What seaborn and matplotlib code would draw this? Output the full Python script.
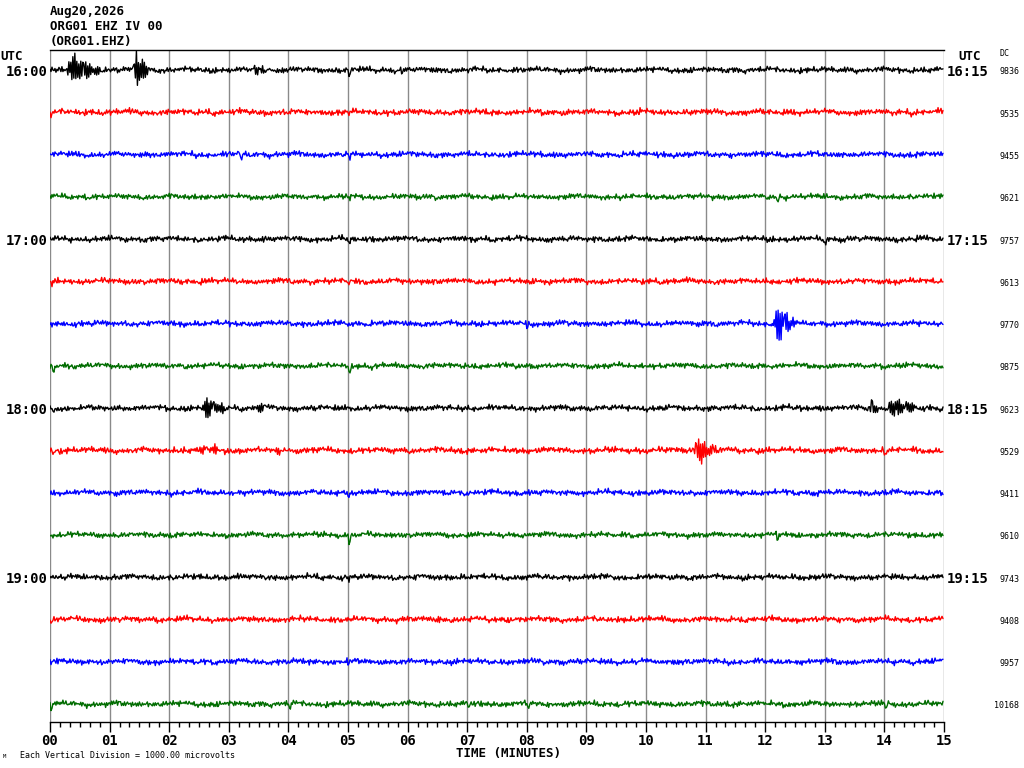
import numpy as np
import pandas as pd
import matplotlib
matplotlib.use("Agg")
import matplotlib.pyplot as plt
import seaborn as sns
from matplotlib.ticker import MultipleLocator

sns.set_style("white")
plt.rcParams["font.family"] = ["DejaVu Sans Mono"]
plt.rcParams["text.color"] = "black"
plt.rcParams["xtick.color"] = "black"

station = "ORG01 EHZ IV 00"
station_short = "(ORG01.EHZ)"
date_label = "Aug20,2026"
left_labels = {0: "16:00", 4: "17:00", 8: "18:00", 12: "19:00"}
right_labels = {0: "16:15", 4: "17:15", 8: "18:15", 12: "19:15"}
dc_values = [9836, 9535, 9455, 9621, 9757, 9613, 9770, 9875,
             9623, 9529, 9411, 9610, 9743, 9408, 9957, 10168]
trace_colors = ["#000000", "#ff0000", "#0000ff", "#006c00"]
minute_ticks = ["%02d" % m for m in range(16)]

# noise size per trace (pixels)
noise_scale = [1.0, 1.05, 1.0, 0.95, 1.0, 1.0, 1.0, 0.95,
               1.0, 1.05, 1.0, 0.95, 1.0, 1.0, 1.0, 1.0]
# hand-estimated wiggle texture (pixels)
jit_a = [1, -2, 3, -1, 0, 2, -3, 1, -1, 2, 0, -2, 3, -2, 1, 0,
         -1, 2, -3, 2, 0, 1, -2, 1, -1, 3, -2, 0, 2, -1, -1]
jit_b = [0, 1, -1, 0, 2, -1, 1, 0, -2, 1, 0, 1, -1, 2, -1, 0, 1, -1,
         0, -1, 2, 0, -1, 1, 0, -2, 1, 1, -1, 0, 1, -1, 2, -1, 0, -1, 1]
jit_c = [0, 1, 2, 1, -1, -2, -1, 0, 2, 1, -1, 0, -2]
burst_tex = [0.9, -0.7, 1.0, -0.9, 0.6, -1.0, 0.8, -0.6, 1.0, -0.8,
             0.7, -0.9, 0.5, -1.0, 0.9, -0.5, 0.8]
# events: trace, start minute, end minute, peak amplitude (pixels)
events = [(0, 0.30, 0.85, 13), (0, 1.40, 1.68, 17), (0, 3.40, 3.75, 5),
          (2, 3.15, 3.25, 4), (6, 12.15, 12.50, 18), (8, 2.55, 2.95, 12),
          (8, 3.50, 3.65, 4), (8, 13.75, 13.92, 11), (8, 14.05, 14.55, 9),
          (9, 2.50, 2.95, 5), (9, 3.80, 4.00, 4), (9, 10.80, 11.25, 12),
          (13, 6.45, 6.60, 3)]
burst_env = [0.35, 0.7, 1.0, 0.9, 0.8, 0.7, 0.6, 0.55, 0.5, 0.45, 0.4, 0.35, 0.3, 0.25]
# small downward kicks near minute marks: trace, minute, depth (pixels)
dips = [(0, 5.02, 5), (0, 5.9, 3), (1, 0.02, 4), (1, 5.0, 3), (2, 3.2, 5), (2, 5.02, 5),
        (3, 5.02, 4), (3, 12.2, 5), (4, 5.02, 5), (4, 13.0, 4), (5, 0.02, 3),
        (5, 5.0, 3), (6, 0.02, 3), (6, 8.0, 3), (7, 0.05, 5), (7, 5.02, 6),
        (7, 5.4, 3), (8, 0.05, 4), (9, 0.05, 4), (9, 14.0, 4), (10, 5.0, 3),
        (11, 5.02, 7), (11, 12.2, 5), (12, 5.0, 3), (13, 0.02, 3), (14, 5.0, 3),
        (15, 0.02, 5), (15, 4.02, 4), (15, 7.02, 4), (15, 8.02, 4), (15, 14.02, 5)]

# ---- layout in image pixels ----
W, H = 1024, 768
ax_left, ax_right, ax_top, ax_bottom = 50, 944, 50, 722
first_y, spacing = 70, (704 - 70) / 15
per_min = 60
n = 15 * per_min

fig = plt.figure(figsize=(10.24, 7.68), dpi=100)
ax = fig.add_axes([ax_left / W, 1 - ax_bottom / H,
                   (ax_right - ax_left) / W, (ax_bottom - ax_top) / H])

t = np.arange(n) / per_min
frames = []
for k in range(16):
    s = k * 7
    i_all = np.arange(n)
    wig = (np.array(jit_a)[(i_all + s) % len(jit_a)] * 0.75
           + np.array(jit_b)[(i_all * 3 + s * 2) % len(jit_b)] * 0.6
           + np.array(jit_c)[(i_all // 9 + s) % len(jit_c)] * 0.5) * noise_scale[k]
    for tr, m0, m1, amp in events:
        if tr != k:
            continue
        i0, i1 = int(m0 * per_min), int(m1 * per_min)
        idx = np.arange(i0, i1)
        env = np.array(burst_env)[((idx - i0) * len(burst_env)) // max(i1 - i0, 1)]
        wig[idx] += env * amp * np.array(burst_tex)[(idx + s) % len(burst_tex)]
    for tr, m, d in dips:
        if tr == k:
            i = int(m * per_min)
            wig[i:i + 2] -= d
    base = first_y + k * spacing
    frames.append(pd.DataFrame({"minute": t, "y": base - wig, "trace": k}))

for k, df in enumerate(frames):
    sns.lineplot(data=df, x="minute", y="y", ax=ax, color=trace_colors[k % 4],
                 linewidth=1.0, estimator=None, sort=False, legend=False)

for m in range(16):
    ax.axvline(m, color="#8a8a8a", linewidth=1.0, zorder=0)

ax.set_xlim(0, 15)
ax.set_ylim(ax_bottom, ax_top)
ax.set_xlabel("")
ax.set_ylabel("")
ax.set_yticks([])
ax.xaxis.set_minor_locator(MultipleLocator(1 / 6))
ax.set_xticks(range(16))
ax.set_xticklabels(minute_ticks, fontsize=10, fontweight="bold")
ax.tick_params(axis="x", which="major", length=7.2, width=1, direction="out",
               color="black", pad=1.5, bottom=True)
ax.tick_params(axis="x", which="minor", length=3.6, width=1, direction="out",
               color="black", bottom=True)
for side in ["left", "right"]:
    ax.spines[side].set_visible(False)
for side in ["top", "bottom"]:
    ax.spines[side].set_color("black")
    ax.spines[side].set_linewidth(1.0)


def px(x, y):
    return x / W, 1 - y / H


fig.text(*px(50, 12), date_label, fontsize=9, fontweight="bold", va="center")
fig.text(*px(50, 26), station, fontsize=9, fontweight="bold", va="center")
fig.text(*px(50, 41), station_short, fontsize=9, fontweight="bold", va="center")
fig.text(*px(0, 57), "UTC", fontsize=9, fontweight="bold", va="center")
fig.text(*px(958, 57), "UTC", fontsize=9, fontweight="bold", va="center")
fig.text(*px(999, 54), "DC", fontsize=6, va="center")
for k, lab in left_labels.items():
    fig.text(*px(48, first_y + k * spacing + 2), lab, fontsize=10,
             fontweight="bold", ha="right", va="center")
for k, lab in right_labels.items():
    fig.text(*px(947, first_y + k * spacing + 2), lab, fontsize=10,
             fontweight="bold", ha="left", va="center")
for k, dc in enumerate(dc_values):
    fig.text(*px(1019, first_y + k * spacing + 2), str(dc), fontsize=6,
             ha="right", va="center")
fig.text(*px(509, 753), "TIME (MINUTES)", fontsize=9, fontweight="bold",
         ha="center", va="center")
fig.text(*px(20, 755), "Each Vertical Division = 1000.00 microvolts",
         fontsize=6, va="center")
fig.text(*px(3, 757), "M", fontsize=4, va="center")

fig.savefig("out.png", dpi=100)
